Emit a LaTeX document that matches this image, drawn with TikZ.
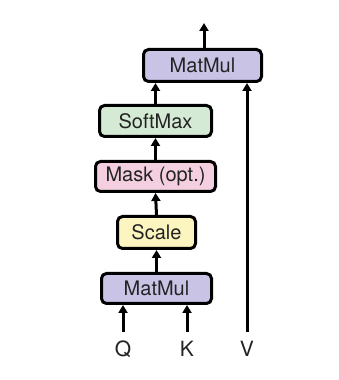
\documentclass[tikz,border=0pt]{standalone}
\usepackage{fontspec}
\setmainfont{TeX Gyre Heros}
\usetikzlibrary{arrows.meta}
\definecolor{mmcol}{RGB}{201,196,230}
\definecolor{smcol}{RGB}{212,234,212}
\definecolor{mkcol}{RGB}{243,207,223}
\definecolor{sccol}{RGB}{252,245,192}
\definecolor{txt}{RGB}{35,35,35}
\begin{document}
\begin{tikzpicture}[x=1pt,y=1pt,
  opbox/.style={draw=black,line width=3pt,rounded corners=5pt,inner sep=0pt,
    font=\fontsize{20}{24}\selectfont,text=txt},
  arr/.style={line width=3pt,-{Triangle[length=8pt,width=9pt]}},
  lbl/.style={font=\fontsize{21}{25}\selectfont,text=txt}]
\useasboundingbox (0,0) rectangle (338,380);
\node[opbox,fill=mmcol,minimum width=118pt,minimum height=32pt] (mm2) at (202.5,314.5) {MatMul};
\node[opbox,fill=smcol,minimum width=112pt,minimum height=31pt] (sm) at (155.5,259) {SoftMax};
\node[opbox,fill=mkcol,minimum width=120pt,minimum height=30pt] (mk) at (155.5,203.5) {Mask (opt.)};
\node[opbox,fill=sccol,minimum width=78pt,minimum height=32pt] (sc) at (156.5,147.5) {Scale};
\node[opbox,fill=mmcol,minimum width=110pt,minimum height=30pt] (mm1) at (156.5,91.5) {MatMul};
\node[lbl] (q) at (123,31) {Q};
\node[lbl] (k) at (187,31) {K};
\node[lbl] (v) at (247,31) {V};
\coordinate (qs) at (123,48);
\coordinate (ks) at (187,48);
\coordinate (vs) at (247,48);
\coordinate (out) at (204,357);
\draw[arr] (qs) -- (qs |- mm1.south);
\draw[arr] (ks) -- (ks |- mm1.south);
\draw[arr] (vs) -- (vs |- mm2.south);
\draw[arr] (mm1.north) -- (sc.south);
\draw[arr] (sc.north) -- (mk.south);
\draw[arr] (mk.north) -- (sm.south);
\draw[arr] (sm.north) -- (sm.north |- mm2.south);
\draw[arr] (out |- mm2.north) -- (out);
\end{tikzpicture}
\end{document}
